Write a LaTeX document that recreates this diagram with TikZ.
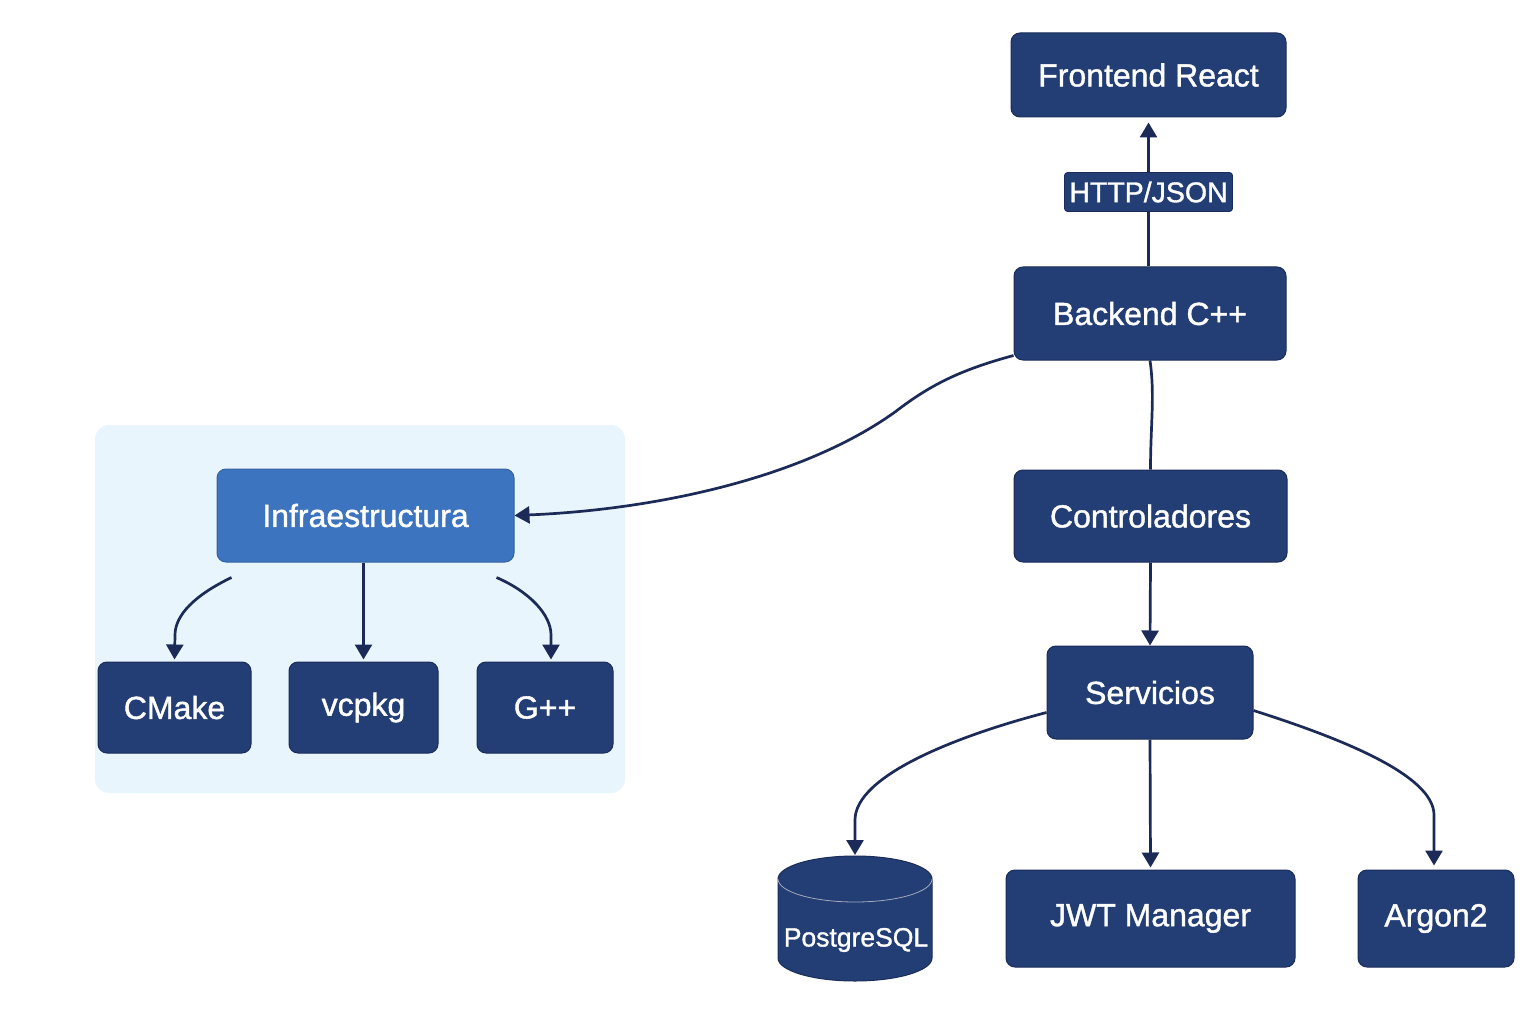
\documentclass[tikz,border=0pt]{standalone}
\usepackage{fontspec}
\setmainfont{Liberation Sans}[FakeBold=1.2]
\usetikzlibrary{arrows.meta}
\definecolor{navy}{RGB}{35,61,117}
\definecolor{navyedge}{RGB}{26,44,88}
\definecolor{infrablue}{RGB}{61,116,191}
\definecolor{panelblue}{RGB}{233,245,253}
\definecolor{wire}{RGB}{28,42,88}
\begin{document}
\begin{tikzpicture}[x=1pt,y=-1pt,
 box/.style={rectangle, rounded corners=9pt, fill=navy, draw=navyedge, line width=1pt, text=white, font=\fontsize{32}{36}\selectfont, inner sep=0pt},
 wirel/.style={draw=wire, line width=2.7pt},
 arr/.style={wirel, -{Triangle[length=15pt,width=17pt]}},
 lbl/.style={rectangle, rounded corners=3pt, fill=navy, draw=navyedge, line width=0.8pt, text=white, font=\fontsize{28.5}{32}\selectfont, minimum width=168pt, minimum height=39pt, inner sep=0pt},
]
\useasboundingbox[fill=white] (0,0) rectangle (1536,1024);

% group panel
\node[fill=panelblue, rounded corners=14pt, minimum width=530pt, minimum height=368pt, inner sep=0pt] (grp) at (360,609) {};

% right column
\node[box, minimum width=275pt, minimum height=84pt] (fe) at (1148.5,75) {Frontend React};
\node[box, minimum width=272pt, minimum height=93pt] (be) at (1150,313.5) {Backend C++};
\node[box, minimum width=273pt, minimum height=92pt] (ctrl) at (1150.5,516) {Controladores};
\node[box, minimum width=206pt, minimum height=93pt] (serv) at (1150,692.5) {Servicios};
\node[box, minimum width=289pt, minimum height=97pt] (jwt) at (1150.5,918.5) {JWT Manager};
\node[box, minimum width=156pt, minimum height=97pt] (arg) at (1436,918.5) {Argon2};

% database cylinder
\fill[navy, draw=navyedge, line width=1pt] (778,879) -- (778,958)
  .. controls (778,970.7) and (812.5,981) .. (855,981)
  .. controls (897.5,981) and (932,970.7) .. (932,958)
  -- (932,879)
  .. controls (932,866.3) and (897.5,856) .. (855,856)
  .. controls (812.5,856) and (778,866.3) .. (778,879) -- cycle;
\draw[navyedge!40!white, line width=0.8pt] (778,879)
  .. controls (778,891.7) and (812.5,902) .. (855,902)
  .. controls (897.5,902) and (932,891.7) .. (932,879);
\node[text=white, font=\fontsize{26.5}{30}\selectfont, inner sep=0pt] (pg) at (856,940) {PostgreSQL};
\coordinate (pgtop) at (855,856);

% left group
\node[box, fill=infrablue, draw=infrablue!85!black, minimum width=297pt, minimum height=93pt] (inf) at (365.5,515.5) {Infraestructura};
\node[box, minimum width=153pt, minimum height=91pt] (cmake) at (174.5,707.5) {CMake};
\node[box, minimum width=149pt, minimum height=91pt] (vcpkg) at (363.5,707.5) {vcpkg};
\node[box, minimum width=136pt, minimum height=91pt] (gpp) at (545,707.5) {G++};

% connectors
\draw[arr, shorten >=5pt] (fe.south |- be.north) -- node[lbl] (http) {HTTP/JSON} (fe.south);
\draw[wirel] (be.south) .. controls +(5,35) and +(0,-45) .. (ctrl.north);
\draw[arr] (ctrl.south) -- (serv.north);
\draw[arr] ([yshift=5pt]be.south west) .. controls (960,370) and (930,385) .. (895,412)
  .. controls (800,480) and (650,510) .. (inf.east);

\draw[arr] ([yshift=-20pt]serv.west) .. controls (960,735) and (855,775) .. (855,820) -- ([yshift=1pt]pgtop);
\draw[arr] (serv.south) -- ([yshift=2pt]jwt.north);
\draw[arr] ([yshift=-18pt]serv.east) .. controls (1340,738) and (1434,775) .. (1434,815) -- ([yshift=4pt]arg.north -| 1434,0);

\draw[arr] ([xshift=15pt,yshift=-15pt]inf.south west) .. controls (195,595) and (175,615) .. (175,635) -- ([yshift=2pt]cmake.north);
\draw[arr] ([xshift=-2pt]inf.south) -- ([yshift=2pt]vcpkg.north);
\draw[arr] ([xshift=-18pt,yshift=-15pt]inf.south east) .. controls (530,592) and (551,615) .. (551,635) -- ([xshift=6pt,yshift=2pt]gpp.north);
\end{tikzpicture}
\end{document}
